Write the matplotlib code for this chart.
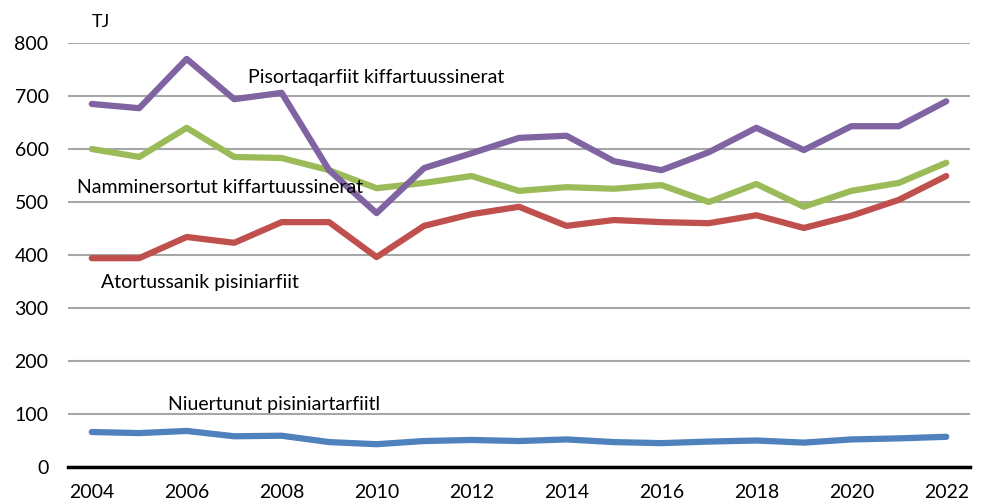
import matplotlib
matplotlib.use("Agg")
import matplotlib.pyplot as plt

years = list(range(2004, 2023))
pisortaqarfiit = [685, 677, 770, 694, 706, 560, 479, 564, 592, 621, 625, 577, 560, 594, 640, 598, 643, 643, 690]
namminersortut = [600, 585, 640, 585, 583, 560, 526, 536, 549, 521, 528, 525, 532, 500, 534, 491, 521, 536, 574]
atortussanik = [394, 394, 434, 423, 462, 462, 396, 455, 477, 491, 455, 466, 462, 460, 475, 451, 474, 504, 549]
niuertunut = [66, 64, 68, 58, 59, 47, 43, 49, 51, 49, 52, 47, 45, 48, 50, 46, 52, 54, 57]

plt.rcParams['font.family'] = ['Lato', 'DejaVu Sans']

fig = plt.figure(figsize=(9.81, 5.04), dpi=100)
ax = fig.add_axes([68 / 981, 37 / 504, 902 / 981, 424 / 504])

lw = 4.5
ax.plot(years, niuertunut, color='#4F81BD', lw=lw, solid_capstyle='round', zorder=3)
ax.plot(years, atortussanik, color='#C0504D', lw=lw, solid_capstyle='round', zorder=3)
ax.plot(years, namminersortut, color='#9BBB59', lw=lw, solid_capstyle='round', zorder=3)
ax.plot(years, pisortaqarfiit, color='#8064A2', lw=lw, solid_capstyle='round', zorder=3)

ax.set_xlim(2003.5, 2022.5)
ax.set_ylim(0, 800)
ax.set_yticks(range(0, 801, 100))
ax.set_xticks(range(2004, 2023, 2))
ax.yaxis.grid(True, color='#a6a6a6', lw=1.5)
ax.set_axisbelow(True)
for s in ['left', 'right', 'top']:
    ax.spines[s].set_visible(False)
ax.spines['bottom'].set_color('black')
ax.spines['bottom'].set_linewidth(2.5)
ax.spines['bottom'].set_zorder(4)
ax.tick_params(axis='both', length=0, labelsize=14)
ax.tick_params(axis='y', pad=14)
ax.tick_params(axis='x', pad=12)

ax.text(2004.2, 840, 'TJ', fontsize=13, ha='center', va='center', clip_on=False)
ax.text(2007.3, 735, 'Pisortaqarfiit kiffartuussinerat', fontsize=14, va='center')
ax.text(2003.7, 527, 'Namminersortut kiffartuussinerat', fontsize=14, va='center')
ax.text(2004.2, 348, 'Atortussanik pisiniarfiit', fontsize=14, va='center')
ax.text(2005.6, 117, 'Niuertunut pisiniartarfiitl', fontsize=14, va='center')

fig.savefig('out.png', dpi=100)
